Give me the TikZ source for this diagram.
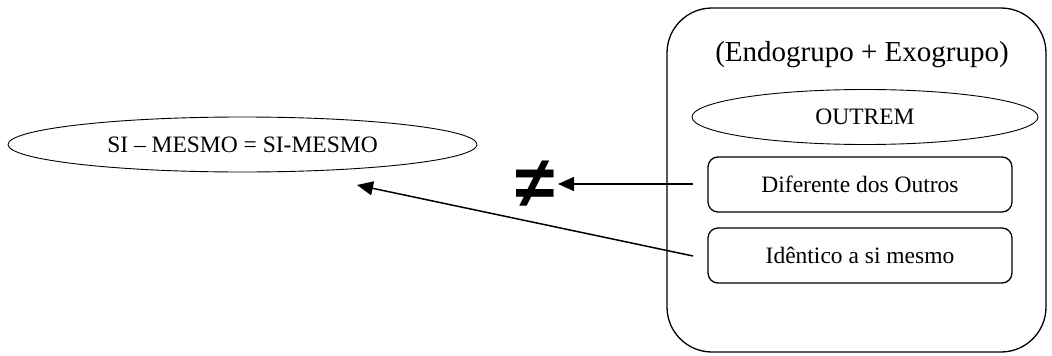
\documentclass[tikz,border=0pt]{standalone}
\usepackage{fontspec}
\setmainfont{Liberation Serif}
\newfontfamily\symfont{Liberation Sans}
\usetikzlibrary{shapes.geometric,arrows.meta}
\tikzset{
  ell/.style={draw, ellipse, line width=0.9pt, inner sep=0pt, font=\fontsize{23.5}{27}\selectfont},
  rbox/.style={draw, rounded corners=10pt, line width=1.3pt, inner sep=0pt, font=\fontsize{23.5}{27}\selectfont},
  conn/.style={line width=1.5pt, -{Triangle[length=16pt,width=14pt]}},
}
\begin{document}
\begin{tikzpicture}[x=1pt,y=-1pt]
\useasboundingbox (0,0) rectangle (1052,356);
\node[draw, rounded corners=45pt, line width=1.3pt, minimum width=379pt, minimum height=344pt, inner sep=0pt] (group) at (856.5,180) {};
\node[font=\fontsize{29}{33}\selectfont] (title) at (862,55) {(Endogrupo + Exogrupo)};
\node[ell, minimum width=346pt, minimum height=55pt] (outrem) at (865,117) {OUTREM};
\node[rbox, minimum width=304pt, minimum height=55pt] (dif) at (860,184.5) {Diferente dos Outros};
\node[rbox, minimum width=304pt, minimum height=55pt] (iden) at (860,255.5) {Idêntico a si mesmo};
\node[ell, minimum width=469pt, minimum height=55pt] (si) at (242.5,144.5) {SI – MESMO = SI-MESMO};
\node[font=\symfont\bfseries\fontsize{72}{76}\selectfont, inner sep=0pt, anchor=center] (neq) at (535,184) {≠};
\coordinate (difstart) at (693,184);
\coordinate (neqtip) at (558,184);
\coordinate (idenstart) at (693,256);
\coordinate (sitarget) at (357,185);
\draw[conn] (difstart) -- (neqtip);
\draw[conn] (idenstart) -- (sitarget);
\end{tikzpicture}
\end{document}
